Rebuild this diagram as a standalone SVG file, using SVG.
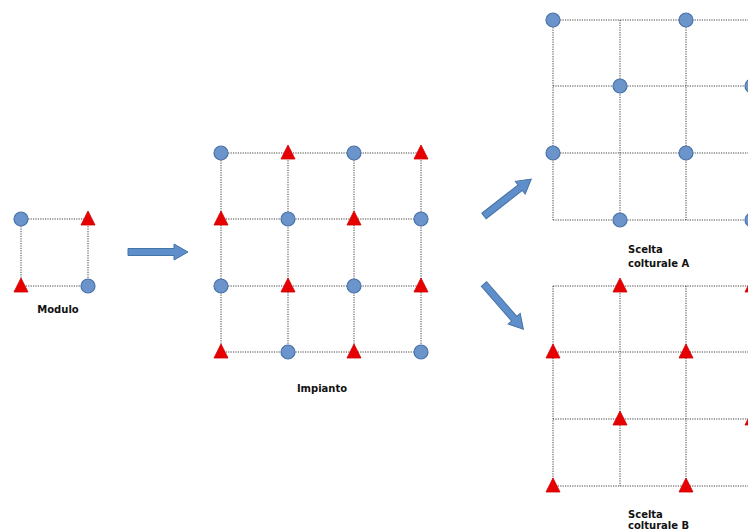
<svg xmlns="http://www.w3.org/2000/svg" width="748" height="531" viewBox="0 0 748 531">
<defs>
<style>
.g{stroke:#222;stroke-width:1;stroke-dasharray:1.2 1.2;fill:none;opacity:0.85}
.c{fill:#6b94cb;stroke:#4a72a8;stroke-width:1.2}
.t{fill:#e60000;stroke:#d00000;stroke-width:0.8}
.lbl{font-family:"DejaVu Sans",sans-serif;font-weight:bold;font-size:10px;fill:#111}
.ar{fill:#5e8fcb;stroke:#4573a6;stroke-width:1}
</style>
<circle id="C" r="7" class="c"/>
<polygon id="T" points="0,-8 7,6 -7,6" class="t"/>
<path id="A" d="M0,-3.5 H46 V-8 L60,0 L46,8 V3.5 H0 Z" class="ar"/>
</defs>
<rect width="748" height="531" fill="#fff"/>
<g id="connectors">
<path class="g" d="M21,219H88M21,286H88M21,219V286M88,219V286"/>
<path class="g" d="M221,153H421M221,219H421M221,286H421M221,352H421M221,153V352M288,153V352M354,153V352M421,153V352"/>
<path class="g" d="M553,20H752M553,86H752M553,153H752M553,220H752M553,20V220M620,20V220M686,20V220"/>
<path class="g" d="M553,286H752M553,352H752M553,419H752M553,486H752M553,286V486M620,286V486M686,286V486"/>
<use href="#A" transform="translate(128,252)"/>
<use href="#A" transform="translate(484,216) rotate(-38)"/>
<use href="#A" transform="translate(484,284) rotate(49)"/>
</g>
<g id="modulo">
<use href="#C" x="21" y="219"/><use href="#T" x="88" y="219"/>
<use href="#T" x="21" y="286"/><use href="#C" x="88" y="286"/>
<text class="lbl" x="58" y="313" text-anchor="middle">Modulo</text>
</g>
<g id="impianto">
<use href="#C" x="221" y="153"/><use href="#T" x="288" y="153"/><use href="#C" x="354" y="153"/><use href="#T" x="421" y="153"/>
<use href="#T" x="221" y="219"/><use href="#C" x="288" y="219"/><use href="#T" x="354" y="219"/><use href="#C" x="421" y="219"/>
<use href="#C" x="221" y="286"/><use href="#T" x="288" y="286"/><use href="#C" x="354" y="286"/><use href="#T" x="421" y="286"/>
<use href="#T" x="221" y="352"/><use href="#C" x="288" y="352"/><use href="#T" x="354" y="352"/><use href="#C" x="421" y="352"/>
<text class="lbl" x="322" y="392" text-anchor="middle">Impianto</text>
</g>
<g id="sceltaA">
<use href="#C" x="553" y="20"/><use href="#C" x="686" y="20"/>
<use href="#C" x="620" y="86"/><use href="#C" x="752" y="86"/>
<use href="#C" x="553" y="153"/><use href="#C" x="686" y="153"/>
<use href="#C" x="620" y="220"/><use href="#C" x="752" y="220"/>
<text class="lbl" x="628" y="253">Scelta</text>
<text class="lbl" x="628" y="267">colturale A</text>
</g>
<g id="sceltaB">
<use href="#T" x="620" y="286"/><use href="#T" x="752" y="286"/>
<use href="#T" x="553" y="352"/><use href="#T" x="686" y="352"/>
<use href="#T" x="620" y="419"/><use href="#T" x="752" y="419"/>
<use href="#T" x="553" y="486"/><use href="#T" x="686" y="486"/>
<text class="lbl" x="628" y="518">Scelta</text>
<text class="lbl" x="628" y="529">colturale B</text>
</g>
</svg>
